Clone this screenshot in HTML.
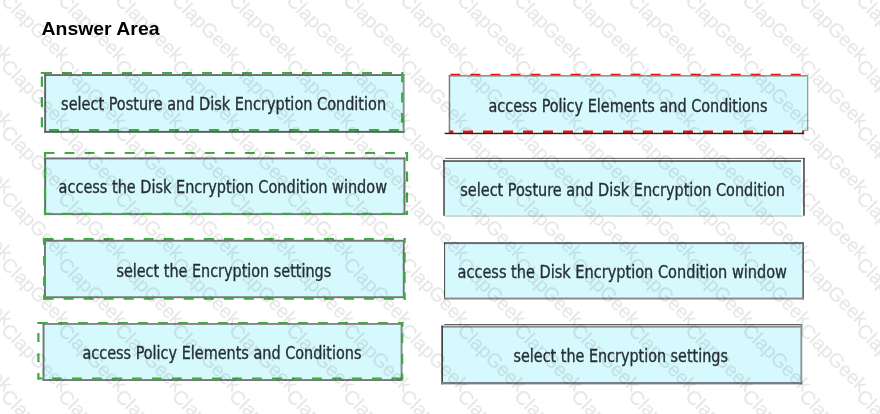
<!DOCTYPE html>
<html lang="en"><head><meta charset="utf-8"><title>Answer Area</title>
<style>
html,body{margin:0;padding:0;background:#fff;}
body{width:880px;height:414px;overflow:hidden;position:relative;}
svg{position:absolute;left:0;top:0;display:block;will-change:transform;}
.t{font-family:"DejaVu Sans Condensed","DejaVu Sans","Liberation Sans",sans-serif;font-size:16.8px;fill:#1f262b;stroke:#1f262b;stroke-width:0.35px;}
.h{font-family:"Liberation Sans",sans-serif;font-weight:bold;font-size:18.5px;fill:#000;}
.wm{font-family:"Liberation Sans",sans-serif;font-size:19.5px;fill:#000;stroke:#000;stroke-width:0.3px;opacity:0.095;}
</style></head><body>
<svg width="880" height="414" viewBox="0 0 880 414">
<rect x="44.2" y="74.1" width="360.4" height="58.7" fill="#d6f9fe"/>
<rect x="44.2" y="74.1" width="360.4" height="1.9" fill="#6e6e6e"/>
<rect x="44.2" y="130.9" width="360.4" height="1.9" fill="#5c5c5c"/>
<rect x="44.2" y="74.1" width="1.9" height="58.7" fill="#686868"/>
<rect x="402.7" y="74.1" width="1.9" height="57.75" fill="#939393"/>
<path d="M42 73H52M62 73H72M82 73H92M102 73H112M122 73H132M142 73H152M162 73H172M182 73H192M202 73H212M222 73H232M242 73H252M262 73H272M282 73H292M302 73H312M322 73H332M342 73H352M362 73H372M382 73H392M402 73H403.3" stroke="#3dab3d" stroke-width="2" fill="none"/>
<path d="M49 129.9H59M69 129.9H79M89 129.9H99M109 129.9H119M129 129.9H139M149 129.9H159M169 129.9H179M189 129.9H199M209 129.9H219M229 129.9H239M249 129.9H259M269 129.9H279M289 129.9H299M309 129.9H319M329 129.9H339M349 129.9H359M369 129.9H379M389 129.9H399" stroke="#3dab3d" stroke-width="2" fill="none"/>
<path d="M41.9 72V74M41.9 76.6V86.7M41.9 96.9V107M41.9 117.2V127.3" stroke="#3dab3d" stroke-width="2.2" fill="none"/>
<path d="M402.2 72.3V82.2M402.2 92.6V102.5M402.2 112.9V122.8" stroke="#3dab3d" stroke-width="2.2" fill="none"/>
<rect x="44.2" y="157.5" width="361.2" height="57.6" fill="#d6f9fe"/>
<rect x="44.2" y="157.5" width="361.2" height="1.9" fill="#6c7074"/>
<rect x="44.2" y="213.2" width="361.2" height="1.9" fill="#787878"/>
<rect x="44.2" y="157.5" width="1.9" height="57.6" fill="#686868"/>
<rect x="403.5" y="157.5" width="1.9" height="56.65" fill="#787878"/>
<path d="M44.6 152.9H54.4M64.63 152.9H74.43M84.66 152.9H94.46M104.69 152.9H114.49M124.72 152.9H134.52M144.75 152.9H154.55M164.78 152.9H174.58M184.81 152.9H194.61M204.84 152.9H214.64M224.87 152.9H234.67M244.9 152.9H254.7M264.93 152.9H274.73M284.96 152.9H294.76M304.99 152.9H314.79M325.02 152.9H334.82M345.05 152.9H354.85M365.08 152.9H374.88M385.11 152.9H394.91M405.14 152.9H407.9" stroke="#3dab3d" stroke-width="2" fill="none"/>
<path d="M44 213.8H51.8M62 213.8H71.8M82 213.8H91.8M102 213.8H111.8M122 213.8H131.8M142 213.8H151.8M162 213.8H171.8M182 213.8H191.8M202 213.8H211.8M222 213.8H231.8M242 213.8H251.8M262 213.8H271.8M282 213.8H291.8M302 213.8H311.8M322 213.8H331.8M342 213.8H351.8M362 213.8H371.8M382 213.8H391.8M402 213.8H407.9" stroke="#3dab3d" stroke-width="2" fill="none"/>
<path d="M45 152V157M45 166.5V178.4M45 188V199M45 208.6V214.7" stroke="#3dab3d" stroke-width="2.2" fill="none"/>
<path d="M407 152V161M407 171.5V181.6M407 192.4V202.6M407 210.8V214.8" stroke="#3dab3d" stroke-width="2.2" fill="none"/>
<rect x="44" y="239.8" width="360.7" height="58.4" fill="#d6f9fe"/>
<rect x="44" y="239.8" width="360.7" height="1.9" fill="#767676"/>
<rect x="44" y="296.3" width="360.7" height="1.9" fill="#767676"/>
<rect x="44" y="239.8" width="1.9" height="58.4" fill="#767676"/>
<rect x="402.8" y="239.8" width="1.9" height="57.45" fill="#767676"/>
<path d="M43.6 239H53.6M63.62 239H73.62M83.64 239H93.64M103.66 239H113.66M123.68 239H133.68M143.7 239H153.7M163.72 239H173.72M183.74 239H193.74M203.76 239H213.76M223.78 239H233.78M243.8 239H253.8M263.82 239H273.82M283.84 239H293.84M303.86 239H313.86M323.88 239H333.88M343.9 239H353.9M363.92 239H373.92M383.94 239H393.94M403.96 239H405.6" stroke="#3dab3d" stroke-width="2" fill="none"/>
<path d="M43.6 298.7H53.6M63.62 298.7H73.62M83.64 298.7H93.64M103.66 298.7H113.66M123.68 298.7H133.68M143.7 298.7H153.7M163.72 298.7H173.72M183.74 298.7H193.74M203.76 298.7H213.76M223.78 298.7H233.78M243.8 298.7H253.8M263.82 298.7H273.82M283.84 298.7H293.84M303.86 298.7H313.86M323.88 298.7H333.88M343.9 298.7H353.9M363.92 298.7H373.92M383.94 298.7H393.94M403.96 298.7H405.6" stroke="#3dab3d" stroke-width="2" fill="none"/>
<path d="M44.2 238V245M44.2 256V265.6M44.2 276.4V286M44.2 294.8V299.7" stroke="#3dab3d" stroke-width="2.2" fill="none"/>
<path d="M404.6 238V243M404.6 252.7V262.4M404.6 272V283M404.6 292.6V299.7" stroke="#3dab3d" stroke-width="2.2" fill="none"/>
<rect x="42.6" y="323" width="359.9" height="58" fill="#d6f9fe"/>
<rect x="42.6" y="323" width="359.9" height="1.9" fill="#858585"/>
<rect x="42.6" y="379.1" width="359.9" height="1.9" fill="#767676"/>
<rect x="42.6" y="323" width="1.9" height="58" fill="#767676"/>
<rect x="400.6" y="323" width="1.9" height="57.05" fill="#888"/>
<path d="M38 323H47.8M58 323H67.8M78 323H87.8M98 323H107.8M118 323H127.8M138 323H147.8M158 323H167.8M178 323H187.8M198 323H207.8M218 323H227.8M238 323H247.8M258 323H267.8M278 323H287.8M298 323H307.8M318 323H327.8M338 323H347.8M358 323H367.8M378 323H387.8M398 323H403.2" stroke="#3dab3d" stroke-width="2" fill="none"/>
<path d="M37.4 378.5H42.5M52 378.5H61.8M72 378.5H81.8M92 378.5H101.8M112 378.5H121.8M132 378.5H141.8M152 378.5H161.8M172 378.5H181.8M192 378.5H201.8M212 378.5H221.8M232 378.5H241.8M252 378.5H261.8M272 378.5H281.8M292 378.5H301.8M312 378.5H321.8M332 378.5H341.8M352 378.5H361.8M372 378.5H381.8M391.6 378.5H403.2" stroke="#3dab3d" stroke-width="2" fill="none"/>
<path d="M38.4 322V324M38.4 333V342M38.4 353.5V362M38.4 373V379.5" stroke="#3dab3d" stroke-width="2.2" fill="none"/>
<path d="M402.2 322V327M402.2 333.4V343M402.2 354V363.7M402.2 373.4V379.5" stroke="#3dab3d" stroke-width="2.2" fill="none"/>
<rect x="449.4" y="75" width="358.2" height="56" fill="#d6f9fe"/>
<rect x="448.7" y="75.2" width="359.5" height="1.3" fill="#7d7d7d"/>
<rect x="448.7" y="75.2" width="1.5" height="57.8" fill="#808080"/>
<rect x="807" y="75.2" width="1.3" height="55.8" fill="#9a9a9a"/>
<rect x="804" y="130.2" width="4.3" height="1" fill="#a8a8a8"/>
<path d="M450.4 74.6H460.4M470.42 74.6H480.42M490.44 74.6H500.44M510.46 74.6H520.46M530.48 74.6H540.48M550.5 74.6H560.5M570.52 74.6H580.52M590.54 74.6H600.54M610.56 74.6H620.56M630.58 74.6H640.58M650.6 74.6H660.6M670.62 74.6H680.62M690.64 74.6H700.64M710.66 74.6H720.66M730.68 74.6H740.68M750.7 74.6H760.7M770.72 74.6H780.72M790.74 74.6H800.74" stroke="#f01010" stroke-width="1.5" fill="none"/>
<path d="M449.4 131.9H453.3M463 131.9H473M483 131.9H493M503 131.9H513M523 131.9H533M543 131.9H553M563 131.9H573M583 131.9H593M603 131.9H613M623 131.9H633M643 131.9H653M663 131.9H673M683 131.9H693M703 131.9H713M723 131.9H733M743 131.9H753M763 131.9H773M783 131.9H793M802 131.9H804" stroke="#f01010" stroke-width="2.6" fill="none"/>
<rect x="444.6" y="132.7" width="359.6" height="1.5" fill="#2a2a2a"/>
<rect x="444.7" y="161.5" width="356.3" height="54.7" fill="#d6f9fe"/>
<rect x="443.2" y="160.1" width="357.8" height="1.9" fill="#6a6a6a"/>
<rect x="445" y="157.9" width="359.8" height="0.9" fill="#555"/>
<rect x="443.2" y="160.1" width="1.6" height="55.7" fill="#505050"/>
<rect x="803.1" y="157.9" width="1.7" height="57.8" fill="#555"/>
<rect x="444.7" y="215.7" width="358.5" height="0.7" fill="#9aa4a6"/>
<rect x="444.5" y="243" width="358.5" height="55.5" fill="#d6f9fe"/>
<rect x="444" y="242.1" width="360" height="2" fill="#666c70"/>
<rect x="444" y="242.1" width="1.1" height="57.4" fill="#555"/>
<rect x="802.3" y="242.1" width="1.7" height="57.4" fill="#6a6a6a"/>
<rect x="444" y="297.6" width="360" height="1.9" fill="#888"/>
<rect x="442" y="326" width="359.5" height="57" fill="#d6f9fe"/>
<rect x="444.2" y="324" width="357.8" height="0.9" fill="#4a4a4a"/>
<rect x="441.3" y="325.6" width="361" height="2" fill="#8a8a8a"/>
<rect x="441.3" y="325.6" width="1.7" height="58.7" fill="#444"/>
<rect x="800.4" y="324.4" width="1.9" height="59.9" fill="#8b9698"/>
<rect x="441.3" y="382" width="361" height="2.4" fill="#74808a"/>
<g opacity="0.96">
<text class="t" x="61.1" y="110.1" textLength="325" lengthAdjust="spacingAndGlyphs">select Posture and Disk Encryption Condition</text>
<text class="t" x="58.6" y="193.3" textLength="328.4" lengthAdjust="spacingAndGlyphs">access the Disk Encryption Condition window</text>
<text class="t" x="116.4" y="276.5" textLength="214.8" lengthAdjust="spacingAndGlyphs">select the Encryption settings</text>
<text class="t" x="82.5" y="359.1" textLength="279" lengthAdjust="spacingAndGlyphs">access Policy Elements and Conditions</text>
<text class="t" x="488.5" y="111.8" textLength="279" lengthAdjust="spacingAndGlyphs">access Policy Elements and Conditions</text>
<text class="t" x="460.3" y="196.3" textLength="324.7" lengthAdjust="spacingAndGlyphs">select Posture and Disk Encryption Condition</text>
<text class="t" x="457.5" y="278.3" textLength="329.5" lengthAdjust="spacingAndGlyphs">access the Disk Encryption Condition window</text>
<text class="t" x="513.5" y="362.3" textLength="214.4" lengthAdjust="spacingAndGlyphs">select the Encryption settings</text>
</g>
<text class="h" x="41.5" y="35.4" textLength="118" lengthAdjust="spacingAndGlyphs">Answer Area</text>
<g class="wm">
<text transform="translate(-105.4 -64.6) rotate(45)" x="-6" y="6">ClapGeek</text>
<text transform="translate(-48.4 -64.6) rotate(45)" x="-6" y="6">ClapGeek</text>
<text transform="translate(8.6 -64.6) rotate(45)" x="-6" y="6">ClapGeek</text>
<text transform="translate(65.6 -64.6) rotate(45)" x="-6" y="6">ClapGeek</text>
<text transform="translate(122.6 -64.6) rotate(45)" x="-6" y="6">ClapGeek</text>
<text transform="translate(179.6 -64.6) rotate(45)" x="-6" y="6">ClapGeek</text>
<text transform="translate(236.6 -64.6) rotate(45)" x="-6" y="6">ClapGeek</text>
<text transform="translate(293.7 -64.6) rotate(45)" x="-6" y="6">ClapGeek</text>
<text transform="translate(350.7 -64.6) rotate(45)" x="-6" y="6">ClapGeek</text>
<text transform="translate(407.7 -64.6) rotate(45)" x="-6" y="6">ClapGeek</text>
<text transform="translate(464.7 -64.6) rotate(45)" x="-6" y="6">ClapGeek</text>
<text transform="translate(521.7 -64.6) rotate(45)" x="-6" y="6">ClapGeek</text>
<text transform="translate(578.7 -64.6) rotate(45)" x="-6" y="6">ClapGeek</text>
<text transform="translate(635.7 -64.6) rotate(45)" x="-6" y="6">ClapGeek</text>
<text transform="translate(692.7 -64.6) rotate(45)" x="-6" y="6">ClapGeek</text>
<text transform="translate(749.7 -64.6) rotate(45)" x="-6" y="6">ClapGeek</text>
<text transform="translate(806.7 -64.6) rotate(45)" x="-6" y="6">ClapGeek</text>
<text transform="translate(863.8 -64.6) rotate(45)" x="-6" y="6">ClapGeek</text>
<text transform="translate(-105.4 1.4) rotate(45)" x="-6" y="6">ClapGeek</text>
<text transform="translate(-48.4 1.4) rotate(45)" x="-6" y="6">ClapGeek</text>
<text transform="translate(8.6 1.4) rotate(45)" x="-6" y="6">ClapGeek</text>
<text transform="translate(65.6 1.4) rotate(45)" x="-6" y="6">ClapGeek</text>
<text transform="translate(122.6 1.4) rotate(45)" x="-6" y="6">ClapGeek</text>
<text transform="translate(179.6 1.4) rotate(45)" x="-6" y="6">ClapGeek</text>
<text transform="translate(236.6 1.4) rotate(45)" x="-6" y="6">ClapGeek</text>
<text transform="translate(293.7 1.4) rotate(45)" x="-6" y="6">ClapGeek</text>
<text transform="translate(350.7 1.4) rotate(45)" x="-6" y="6">ClapGeek</text>
<text transform="translate(407.7 1.4) rotate(45)" x="-6" y="6">ClapGeek</text>
<text transform="translate(464.7 1.4) rotate(45)" x="-6" y="6">ClapGeek</text>
<text transform="translate(521.7 1.4) rotate(45)" x="-6" y="6">ClapGeek</text>
<text transform="translate(578.7 1.4) rotate(45)" x="-6" y="6">ClapGeek</text>
<text transform="translate(635.7 1.4) rotate(45)" x="-6" y="6">ClapGeek</text>
<text transform="translate(692.7 1.4) rotate(45)" x="-6" y="6">ClapGeek</text>
<text transform="translate(749.7 1.4) rotate(45)" x="-6" y="6">ClapGeek</text>
<text transform="translate(806.7 1.4) rotate(45)" x="-6" y="6">ClapGeek</text>
<text transform="translate(863.8 1.4) rotate(45)" x="-6" y="6">ClapGeek</text>
<text transform="translate(-105.4 67.4) rotate(45)" x="-6" y="6">ClapGeek</text>
<text transform="translate(-48.4 67.4) rotate(45)" x="-6" y="6">ClapGeek</text>
<text transform="translate(8.6 67.4) rotate(45)" x="-6" y="6">ClapGeek</text>
<text transform="translate(65.6 67.4) rotate(45)" x="-6" y="6">ClapGeek</text>
<text transform="translate(122.6 67.4) rotate(45)" x="-6" y="6">ClapGeek</text>
<text transform="translate(179.6 67.4) rotate(45)" x="-6" y="6">ClapGeek</text>
<text transform="translate(236.6 67.4) rotate(45)" x="-6" y="6">ClapGeek</text>
<text transform="translate(293.7 67.4) rotate(45)" x="-6" y="6">ClapGeek</text>
<text transform="translate(350.7 67.4) rotate(45)" x="-6" y="6">ClapGeek</text>
<text transform="translate(407.7 67.4) rotate(45)" x="-6" y="6">ClapGeek</text>
<text transform="translate(464.7 67.4) rotate(45)" x="-6" y="6">ClapGeek</text>
<text transform="translate(521.7 67.4) rotate(45)" x="-6" y="6">ClapGeek</text>
<text transform="translate(578.7 67.4) rotate(45)" x="-6" y="6">ClapGeek</text>
<text transform="translate(635.7 67.4) rotate(45)" x="-6" y="6">ClapGeek</text>
<text transform="translate(692.7 67.4) rotate(45)" x="-6" y="6">ClapGeek</text>
<text transform="translate(749.7 67.4) rotate(45)" x="-6" y="6">ClapGeek</text>
<text transform="translate(806.7 67.4) rotate(45)" x="-6" y="6">ClapGeek</text>
<text transform="translate(863.8 67.4) rotate(45)" x="-6" y="6">ClapGeek</text>
<text transform="translate(-105.4 133.4) rotate(45)" x="-6" y="6">ClapGeek</text>
<text transform="translate(-48.4 133.4) rotate(45)" x="-6" y="6">ClapGeek</text>
<text transform="translate(8.6 133.4) rotate(45)" x="-6" y="6">ClapGeek</text>
<text transform="translate(65.6 133.4) rotate(45)" x="-6" y="6">ClapGeek</text>
<text transform="translate(122.6 133.4) rotate(45)" x="-6" y="6">ClapGeek</text>
<text transform="translate(179.6 133.4) rotate(45)" x="-6" y="6">ClapGeek</text>
<text transform="translate(236.6 133.4) rotate(45)" x="-6" y="6">ClapGeek</text>
<text transform="translate(293.7 133.4) rotate(45)" x="-6" y="6">ClapGeek</text>
<text transform="translate(350.7 133.4) rotate(45)" x="-6" y="6">ClapGeek</text>
<text transform="translate(407.7 133.4) rotate(45)" x="-6" y="6">ClapGeek</text>
<text transform="translate(464.7 133.4) rotate(45)" x="-6" y="6">ClapGeek</text>
<text transform="translate(521.7 133.4) rotate(45)" x="-6" y="6">ClapGeek</text>
<text transform="translate(578.7 133.4) rotate(45)" x="-6" y="6">ClapGeek</text>
<text transform="translate(635.7 133.4) rotate(45)" x="-6" y="6">ClapGeek</text>
<text transform="translate(692.7 133.4) rotate(45)" x="-6" y="6">ClapGeek</text>
<text transform="translate(749.7 133.4) rotate(45)" x="-6" y="6">ClapGeek</text>
<text transform="translate(806.7 133.4) rotate(45)" x="-6" y="6">ClapGeek</text>
<text transform="translate(863.8 133.4) rotate(45)" x="-6" y="6">ClapGeek</text>
<text transform="translate(-105.4 199.4) rotate(45)" x="-6" y="6">ClapGeek</text>
<text transform="translate(-48.4 199.4) rotate(45)" x="-6" y="6">ClapGeek</text>
<text transform="translate(8.6 199.4) rotate(45)" x="-6" y="6">ClapGeek</text>
<text transform="translate(65.6 199.4) rotate(45)" x="-6" y="6">ClapGeek</text>
<text transform="translate(122.6 199.4) rotate(45)" x="-6" y="6">ClapGeek</text>
<text transform="translate(179.6 199.4) rotate(45)" x="-6" y="6">ClapGeek</text>
<text transform="translate(236.6 199.4) rotate(45)" x="-6" y="6">ClapGeek</text>
<text transform="translate(293.7 199.4) rotate(45)" x="-6" y="6">ClapGeek</text>
<text transform="translate(350.7 199.4) rotate(45)" x="-6" y="6">ClapGeek</text>
<text transform="translate(407.7 199.4) rotate(45)" x="-6" y="6">ClapGeek</text>
<text transform="translate(464.7 199.4) rotate(45)" x="-6" y="6">ClapGeek</text>
<text transform="translate(521.7 199.4) rotate(45)" x="-6" y="6">ClapGeek</text>
<text transform="translate(578.7 199.4) rotate(45)" x="-6" y="6">ClapGeek</text>
<text transform="translate(635.7 199.4) rotate(45)" x="-6" y="6">ClapGeek</text>
<text transform="translate(692.7 199.4) rotate(45)" x="-6" y="6">ClapGeek</text>
<text transform="translate(749.7 199.4) rotate(45)" x="-6" y="6">ClapGeek</text>
<text transform="translate(806.7 199.4) rotate(45)" x="-6" y="6">ClapGeek</text>
<text transform="translate(863.8 199.4) rotate(45)" x="-6" y="6">ClapGeek</text>
<text transform="translate(-105.4 265.4) rotate(45)" x="-6" y="6">ClapGeek</text>
<text transform="translate(-48.4 265.4) rotate(45)" x="-6" y="6">ClapGeek</text>
<text transform="translate(8.6 265.4) rotate(45)" x="-6" y="6">ClapGeek</text>
<text transform="translate(65.6 265.4) rotate(45)" x="-6" y="6">ClapGeek</text>
<text transform="translate(122.6 265.4) rotate(45)" x="-6" y="6">ClapGeek</text>
<text transform="translate(179.6 265.4) rotate(45)" x="-6" y="6">ClapGeek</text>
<text transform="translate(236.6 265.4) rotate(45)" x="-6" y="6">ClapGeek</text>
<text transform="translate(293.7 265.4) rotate(45)" x="-6" y="6">ClapGeek</text>
<text transform="translate(350.7 265.4) rotate(45)" x="-6" y="6">ClapGeek</text>
<text transform="translate(407.7 265.4) rotate(45)" x="-6" y="6">ClapGeek</text>
<text transform="translate(464.7 265.4) rotate(45)" x="-6" y="6">ClapGeek</text>
<text transform="translate(521.7 265.4) rotate(45)" x="-6" y="6">ClapGeek</text>
<text transform="translate(578.7 265.4) rotate(45)" x="-6" y="6">ClapGeek</text>
<text transform="translate(635.7 265.4) rotate(45)" x="-6" y="6">ClapGeek</text>
<text transform="translate(692.7 265.4) rotate(45)" x="-6" y="6">ClapGeek</text>
<text transform="translate(749.7 265.4) rotate(45)" x="-6" y="6">ClapGeek</text>
<text transform="translate(806.7 265.4) rotate(45)" x="-6" y="6">ClapGeek</text>
<text transform="translate(863.8 265.4) rotate(45)" x="-6" y="6">ClapGeek</text>
<text transform="translate(-105.4 331.4) rotate(45)" x="-6" y="6">ClapGeek</text>
<text transform="translate(-48.4 331.4) rotate(45)" x="-6" y="6">ClapGeek</text>
<text transform="translate(8.6 331.4) rotate(45)" x="-6" y="6">ClapGeek</text>
<text transform="translate(65.6 331.4) rotate(45)" x="-6" y="6">ClapGeek</text>
<text transform="translate(122.6 331.4) rotate(45)" x="-6" y="6">ClapGeek</text>
<text transform="translate(179.6 331.4) rotate(45)" x="-6" y="6">ClapGeek</text>
<text transform="translate(236.6 331.4) rotate(45)" x="-6" y="6">ClapGeek</text>
<text transform="translate(293.7 331.4) rotate(45)" x="-6" y="6">ClapGeek</text>
<text transform="translate(350.7 331.4) rotate(45)" x="-6" y="6">ClapGeek</text>
<text transform="translate(407.7 331.4) rotate(45)" x="-6" y="6">ClapGeek</text>
<text transform="translate(464.7 331.4) rotate(45)" x="-6" y="6">ClapGeek</text>
<text transform="translate(521.7 331.4) rotate(45)" x="-6" y="6">ClapGeek</text>
<text transform="translate(578.7 331.4) rotate(45)" x="-6" y="6">ClapGeek</text>
<text transform="translate(635.7 331.4) rotate(45)" x="-6" y="6">ClapGeek</text>
<text transform="translate(692.7 331.4) rotate(45)" x="-6" y="6">ClapGeek</text>
<text transform="translate(749.7 331.4) rotate(45)" x="-6" y="6">ClapGeek</text>
<text transform="translate(806.7 331.4) rotate(45)" x="-6" y="6">ClapGeek</text>
<text transform="translate(863.8 331.4) rotate(45)" x="-6" y="6">ClapGeek</text>
<text transform="translate(-105.4 397.4) rotate(45)" x="-6" y="6">ClapGeek</text>
<text transform="translate(-48.4 397.4) rotate(45)" x="-6" y="6">ClapGeek</text>
<text transform="translate(8.6 397.4) rotate(45)" x="-6" y="6">ClapGeek</text>
<text transform="translate(65.6 397.4) rotate(45)" x="-6" y="6">ClapGeek</text>
<text transform="translate(122.6 397.4) rotate(45)" x="-6" y="6">ClapGeek</text>
<text transform="translate(179.6 397.4) rotate(45)" x="-6" y="6">ClapGeek</text>
<text transform="translate(236.6 397.4) rotate(45)" x="-6" y="6">ClapGeek</text>
<text transform="translate(293.7 397.4) rotate(45)" x="-6" y="6">ClapGeek</text>
<text transform="translate(350.7 397.4) rotate(45)" x="-6" y="6">ClapGeek</text>
<text transform="translate(407.7 397.4) rotate(45)" x="-6" y="6">ClapGeek</text>
<text transform="translate(464.7 397.4) rotate(45)" x="-6" y="6">ClapGeek</text>
<text transform="translate(521.7 397.4) rotate(45)" x="-6" y="6">ClapGeek</text>
<text transform="translate(578.7 397.4) rotate(45)" x="-6" y="6">ClapGeek</text>
<text transform="translate(635.7 397.4) rotate(45)" x="-6" y="6">ClapGeek</text>
<text transform="translate(692.7 397.4) rotate(45)" x="-6" y="6">ClapGeek</text>
<text transform="translate(749.7 397.4) rotate(45)" x="-6" y="6">ClapGeek</text>
<text transform="translate(806.7 397.4) rotate(45)" x="-6" y="6">ClapGeek</text>
<text transform="translate(863.8 397.4) rotate(45)" x="-6" y="6">ClapGeek</text>
<text transform="translate(-105.4 463.4) rotate(45)" x="-6" y="6">ClapGeek</text>
<text transform="translate(-48.4 463.4) rotate(45)" x="-6" y="6">ClapGeek</text>
<text transform="translate(8.6 463.4) rotate(45)" x="-6" y="6">ClapGeek</text>
<text transform="translate(65.6 463.4) rotate(45)" x="-6" y="6">ClapGeek</text>
<text transform="translate(122.6 463.4) rotate(45)" x="-6" y="6">ClapGeek</text>
<text transform="translate(179.6 463.4) rotate(45)" x="-6" y="6">ClapGeek</text>
<text transform="translate(236.6 463.4) rotate(45)" x="-6" y="6">ClapGeek</text>
<text transform="translate(293.7 463.4) rotate(45)" x="-6" y="6">ClapGeek</text>
<text transform="translate(350.7 463.4) rotate(45)" x="-6" y="6">ClapGeek</text>
<text transform="translate(407.7 463.4) rotate(45)" x="-6" y="6">ClapGeek</text>
<text transform="translate(464.7 463.4) rotate(45)" x="-6" y="6">ClapGeek</text>
<text transform="translate(521.7 463.4) rotate(45)" x="-6" y="6">ClapGeek</text>
<text transform="translate(578.7 463.4) rotate(45)" x="-6" y="6">ClapGeek</text>
<text transform="translate(635.7 463.4) rotate(45)" x="-6" y="6">ClapGeek</text>
<text transform="translate(692.7 463.4) rotate(45)" x="-6" y="6">ClapGeek</text>
<text transform="translate(749.7 463.4) rotate(45)" x="-6" y="6">ClapGeek</text>
<text transform="translate(806.7 463.4) rotate(45)" x="-6" y="6">ClapGeek</text>
<text transform="translate(863.8 463.4) rotate(45)" x="-6" y="6">ClapGeek</text>
</g>
</svg>
</body></html>
